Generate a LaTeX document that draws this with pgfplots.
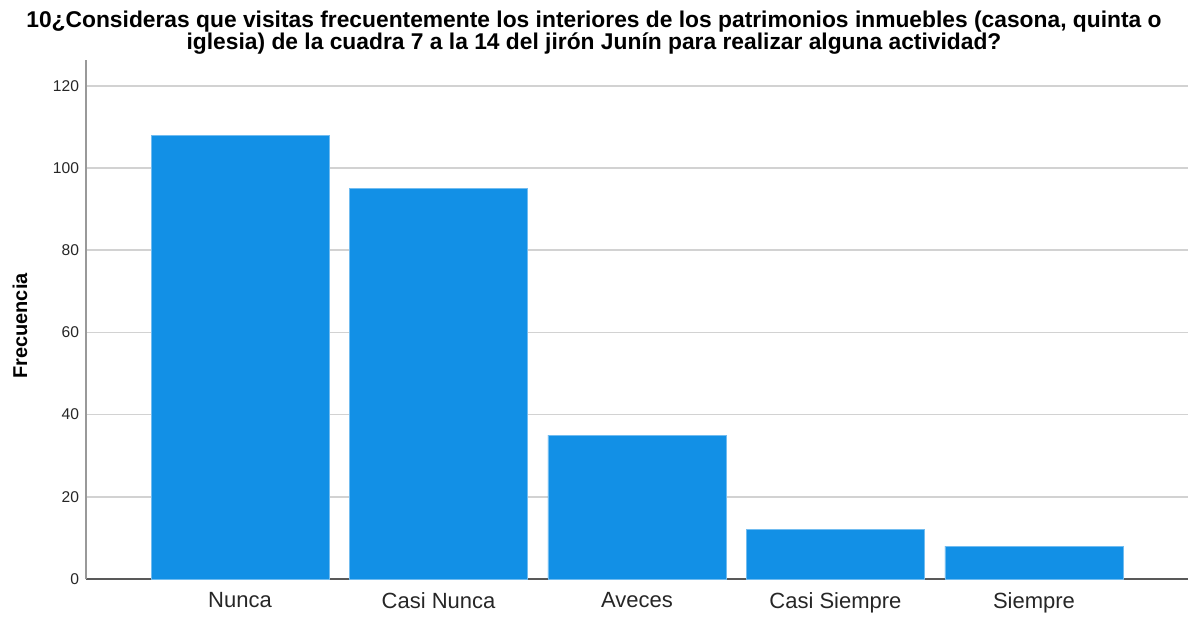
\documentclass[border=0pt]{standalone}
\usepackage{pgfplots}
\pgfplotsset{compat=1.18}
\usepackage{fontspec}
\setmainfont{Liberation Sans}
\definecolor{barblue}{HTML}{1290E6}
\definecolor{gridgray}{HTML}{D2D2D2}
\begin{document}
\begin{tikzpicture}
\useasboundingbox (0,0) rectangle (594pt,308pt);
\begin{axis}[
  at={(43pt,18.5pt)}, anchor=south west,
  scale only axis, width=551pt, height=259.5pt,
  xmin=-0.776, xmax=4.776, ymin=0, ymax=126.3,
  ytick={0,20,...,120},
  xtick={0,1,2,3,4},
  xticklabels={Nunca,Casi Nunca,Aveces,Casi Siempre,Siempre},
  /pgf/number format/assume math mode=true,
  yticklabel style={font=\fontsize{7.8}{9}\selectfont, color=black!85},
  xticklabel style={font=\fontsize{11}{13}\selectfont, color=black!85, yshift=-3pt},
  major tick length=0pt,
  ymajorgrids, grid style={gridgray, line width=0.8pt},
  axis x line*=bottom, axis y line*=left,
  x axis line style={black!65, line width=0.7pt, -},
  y axis line style={black!40, line width=0.9pt, -},
  ybar, bar width=0.897,
  clip=false,
]
\addplot[fill=barblue, draw=barblue!60!white, line width=0.4pt] coordinates {(0,108) (1,95) (2,35) (3,12) (4,8)};
\end{axis}
\node[rotate=90, font=\bfseries\fontsize{10}{12}\selectfont, inner sep=0pt] at (10pt,145pt) {Frecuencia};
\node[font=\bfseries\fontsize{11.4}{12}\selectfont, anchor=base, inner sep=0pt] at (297pt,294pt) {10¿Consideras que visitas frecuentemente los interiores de los patrimonios inmuebles (casona, quinta o};
\node[font=\bfseries\fontsize{11.4}{12}\selectfont, anchor=base, inner sep=0pt] at (297pt,283pt) {iglesia) de la cuadra 7 a la 14 del jirón Junín para realizar alguna actividad?};
\end{tikzpicture}
\end{document}
